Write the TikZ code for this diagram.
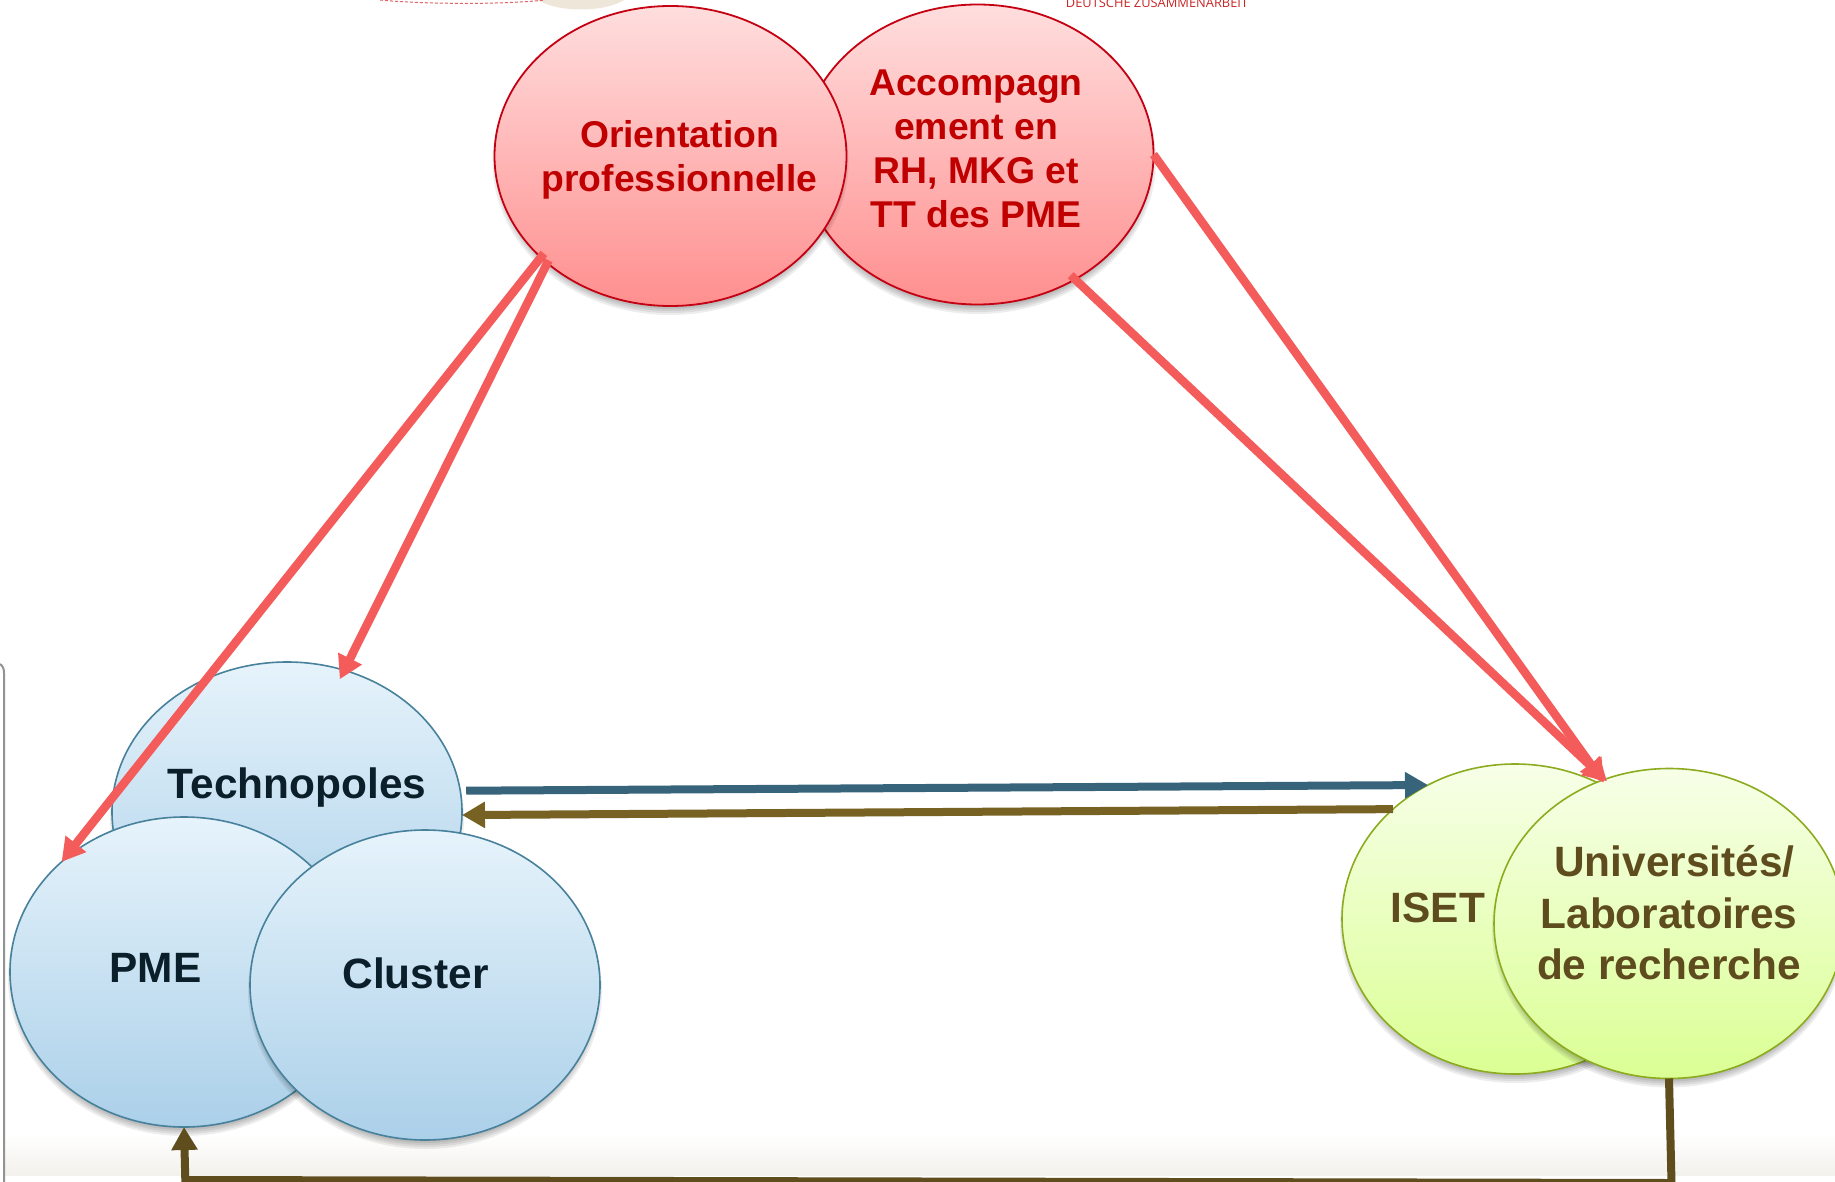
\documentclass[tikz,border=0pt]{standalone}
\usepackage{fontspec}
\setmainfont{Liberation Sans}
\newfontfamily\smallsans{Open Sans}
\usetikzlibrary{arrows.meta,shapes.geometric}
\definecolor{redline}{HTML}{F45C5C}
\definecolor{redtext}{HTML}{C00000}
\definecolor{redrim}{HTML}{C40012}
\definecolor{bluetext}{HTML}{0B1F2B}
\definecolor{browntext}{HTML}{5F4C1E}
\definecolor{bluearrow}{HTML}{37647B}
\definecolor{brownarrow}{HTML}{776223}
\definecolor{darkarrow}{HTML}{5F4D1E}
\tikzset{
  oval/.style 2 args={ellipse,minimum width=#1,minimum height=#2,inner sep=0pt,outer sep=0pt},
  redoval/.style={oval={352pt}{300pt},draw=redrim,line width=1.8pt,top color=red!13!white,bottom color={rgb,255:red,255;green,143;blue,143}},
  blueoval/.style={oval={350pt}{310pt},draw={rgb,255:red,71;green,129;blue,155},line width=1.6pt,top color={rgb,255:red,230;green,243;blue,251},bottom color={rgb,255:red,171;green,208;blue,233}},
  greenoval/.style={oval={348pt}{310pt},draw={rgb,255:red,140;green,171;blue,31},line width=1.6pt,top color={rgb,255:red,247;green,255;blue,232},bottom color={rgb,255:red,219;green,255;blue,148}},
  redlab/.style={align=center,text=redtext,inner sep=0pt,font=\fontsize{37.3}{44}\selectfont\bfseries},
  bluelab/.style={align=center,text=bluetext,inner sep=0pt,font=\fontsize{42.4}{51.5}\selectfont\bfseries},
  brownlab/.style={align=center,text=browntext,inner sep=0pt,font=\fontsize{42.4}{51.5}\selectfont\bfseries},
  link/.style={line width=8pt,-{Triangle[length=23pt,width=25pt]}},
  redlink/.style={link,line width=8.5pt,draw=redline,color=redline},
  bluelink/.style={link,draw=bluearrow,color=bluearrow},
  brownlink/.style={link,draw=brownarrow,color=brownarrow},
  darklink/.style={link,draw=darkarrow,color=darkarrow},
}
\newcommand{\softshade}[4]{%
  \foreach \d in {6,4,2,0,-2}{%
    \fill[black,opacity=0.07] (#1,#2+6) ellipse [x radius=#3+\d-4, y radius=#4+\d-3];
  }}
\begin{document}
\begin{tikzpicture}[x=1pt,y=-1pt]
\useasboundingbox (0,0) rectangle (1835,1182);
\fill[white] (0,0) rectangle (1835,1182);
% background band and frame
\shade[top color=white,bottom color={rgb,255:red,243;green,241;blue,236}] (5,1134) rectangle (1835,1175);
\draw[line width=2pt,draw=gray!85] (0,664) .. controls (3,666) and (4,669) .. (4,673) -- (4,1182);
% clipped header remains
\fill[fill={rgb,255:red,237;green,230;blue,217}] (581,-12) ellipse [x radius=52, y radius=21.5];
\draw[densely dashed,line width=1pt,draw={rgb,255:red,224;green,100;blue,100}] (380,0) .. controls (420,4) and (500,5) .. (545,0);
\node[anchor=base,text=redtext!85,inner sep=0pt,font=\fontsize{12.85}{14}\selectfont\smallsans] (gizhead) at (1157,7.5) {DEUTSCHE ZUSAMMENARBEIT};

% red pair
\softshade{977.5}{154.5}{176.5}{150.5}
\node[redoval] (accomp) at (977.5,154.5) {};
\softshade{670.5}{156}{176}{150}
\node[redoval] (orient) at (670.5,156) {};
% blue trio
\softshade{287}{812}{175}{150}
\node[blueoval,minimum height=300pt] (techno) at (287,812) {};
\softshade{184}{972}{174}{155}
\node[blueoval,minimum width=348pt] (pme) at (184,972) {};
\softshade{425}{985}{175}{155}
\node[blueoval] (cluster) at (425,985) {};
% green pair
\softshade{1515}{919}{173}{155}
\node[greenoval,minimum width=346pt] (iset) at (1515,919) {};
\softshade{1669}{923.5}{175}{155}
\node[greenoval,minimum width=350pt] (univ) at (1669,923.5) {};

% labels
\node[redlab] (lorient) at (679.5,160) {Orientation\\professionnelle};
\node[redlab] (laccomp) at (976,148.5) {Accompagn\\ement en\\RH, MKG et\\TT des PME};
\node[bluelab] (ltechno) at (297,787.5) {Technopoles};
\node[bluelab] (lpme) at (155.5,967.5) {PME};
\node[bluelab] (lcluster) at (415.5,973) {Cluster};
\node[brownlab] (liset) at (1438,907.5) {ISET};
\node[brownlab] (luniv) at (1669,913) {\hspace*{11pt}Universités/\\Laboratoires\\de recherche};

% corners of the long return connector
\coordinate (cornerR) at (1671.5,1183);
\coordinate (cornerL) at (185.3,1180);

% connectors
\draw[redlink,shorten <=-5pt] (orient.218) -- (pme.138);
\draw[redlink,shorten <=-3pt,shorten >=-10pt] (orient.221) -- (techno.68);
\draw[redlink,shorten <=-6pt,shorten >=-3pt] (accomp.308) -- (univ.114);
\draw[redlink,shorten >=-3pt] (accomp.0) -- (univ.115.5);
\draw[bluelink,shorten <=6pt] (techno.7.5) -- (iset.123);
\draw[brownlink] (iset.138.2) -- (techno.359);
\draw[darklink] (univ.270) -- (cornerR) -- (cornerL) -- (pme.270);
\end{tikzpicture}
\end{document}
